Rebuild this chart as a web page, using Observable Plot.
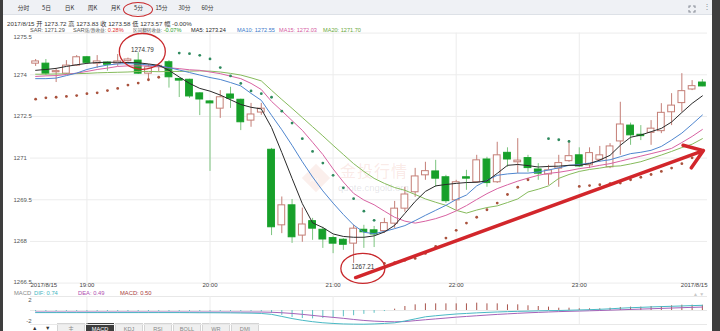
<!DOCTYPE html>
<html><head><meta charset="utf-8">
<script src="https://cdn.jsdelivr.net/npm/d3@7"></script>
<script src="https://cdn.jsdelivr.net/npm/@observablehq/plot@0.6"></script>
<style>
body{margin:0;background:#fff;}
#wrap{position:relative;width:720px;height:331px;overflow:hidden;background:#fff;font-family:"Liberation Sans",Arial,"Noto Sans CJK SC",sans-serif;color:#444;}
#bar{position:absolute;left:0;top:0;width:720px;height:15px;background:#eff1f5;border-bottom:1px solid #dde1e7;display:flex;padding-left:12px;box-sizing:border-box;}
#bar span{width:23px;text-align:center;font-size:5.8px;line-height:16px;color:#333;font-family:"Noto Sans CJK SC","Liberation Sans",sans-serif;}
.abs{position:absolute;white-space:nowrap;}
#info1{left:7px;top:18.5px;font-size:6.2px;color:#333;}
.i2{top:26.5px;font-size:5.6px;color:#555;}
.cj{font-family:"Noto Sans CJK SC",sans-serif;font-size:4.6px;}
.mi{top:290px;font-size:5.8px;}
.tab{position:absolute;top:323px;width:28px;height:12px;border:1px solid #d4d4d4;background:#efefef;color:#888;font-size:5.6px;text-align:center;line-height:10px;box-sizing:border-box;}
.tab.on{background:#3d3d3d;color:#fff;border-color:#3d3d3d;}
.strip{position:absolute;top:0;height:331px;background:#3e3e3e;z-index:5;}
</style></head>
<body><div id="wrap">
<div id="bar"></div>
<div class="abs" style="left:123px;top:1.5px;width:30px;height:15px;border:1.3px solid #c8282c;border-radius:50%;box-sizing:border-box;"></div>
<svg class="abs" style="left:688px;top:5px" width="8" height="8" viewBox="0 0 8 8"><path d="M1 3V1h2M5 1h2v2M7 5v2H5M3 7H1V5" fill="none" stroke="#8a8f99" stroke-width="1.1"/></svg>
<div class="abs" style="left:703px;top:2px;font-size:8px;color:#8a8f99;">⋮</div>
<div id="info1" class="abs">2017/8/15 开 1273.72 高 1273.83 收 1273.58 低 1273.57 幅 -0.00%</div>
<div class="abs i2" style="left:30px">SAR: 1271.29</div>
<div class="abs i2" style="left:73px">SAR<span class="cj">涨/跌收益</span>: <span style="color:#e0302c">0.28%</span></div>
<div class="abs i2" style="left:133px"><span class="cj">区间翻转收益</span>: <span style="color:#1f9a2a">-0.07%</span></div>
<div class="abs i2" style="left:191px;color:#222">MA5: 1273.24</div>
<div class="abs i2" style="left:237px;color:#3a78c9">MA10: 1272.55</div>
<div class="abs i2" style="left:279px;color:#d45aa0">MA15: 1272.03</div>
<div class="abs i2" style="left:323px;color:#6aa83a">MA20: 1271.70</div>
<div class="abs" style="left:306px;top:168px;width:20px;height:20px;transform:rotate(45deg);background:rgba(226,130,112,0.13);"></div>
<div class="abs" style="left:310px;top:176px;font-size:7px;color:rgba(255,255,255,0.7);">Au</div>
<div class="abs" style="left:340px;top:158px;font-size:16px;color:rgba(226,130,112,0.18);font-family:'Noto Sans CJK SC',sans-serif;letter-spacing:1px;">金投行情</div>
<div class="abs" style="left:338px;top:182px;font-size:9.5px;color:rgba(160,160,175,0.28);">quote.cngold.org</div>
<div class="abs mi" style="left:14px;color:#888">MACD</div>
<div class="abs mi" style="left:34px;color:#3fb6c2">DIF: 0.74</div>
<div class="abs mi" style="left:78px;color:#b04fb0">DEA: 0.49</div>
<div class="abs mi" style="left:120px;color:#a8403c">MACD: 0.50</div>
<div class="abs" style="left:693px;top:291px;font-size:5px;color:#c8c8c8">▲ ▼</div>
<div class="abs" style="left:32px;top:325px;font-size:5.5px;color:#333">▲</div>
<div class="abs" style="left:45px;top:325px;font-size:5.5px;color:#333">▼</div>
<div id="tabs"></div>
<div class="strip" style="left:0;width:3px"></div>
<div class="strip" style="left:712px;width:8px"></div>
</div>
<script>
// ---------- data ----------
const toolbarLabels = ["分时","5日","日K","周K","月K","5分","15分","30分","60分"];
const tabLabels = ["主","MACD","KDJ","RSI","BOLL","WR","DMI"];
const dateLabel = "2017/8/15";
const timeTickIdx = [5,17,29,41,53];
const timeTickLabels = ["19:00","20:00","21:00","22:00","23:00"];
const priceTicks = [1266.5,1268,1269.5,1271,1272.5,1274,1275.5];
const macdTicks = [2,-2];

const opens = [1274.40,1274.40,1274.09,1274.04,1274.33,1274.63,1274.40,1274.44,1274.40,1274.49,
1274.51,1274.04,1274.27,1274.45,1273.85,1273.82,1273.33,1273.04,1272.78,1273.29,
1273.10,1272.35,1272.64,1271.30,1268.58,1269.30,1268.21,1268.73,1268.42,1268.12,
1268.06,1267.92,1268.42,1268.40,1268.37,1268.64,1269.18,1269.77,1270.38,1270.52,
1270.31,1269.48,1270.31,1270.13,1270.95,1270.13,1271.19,1270.85,1271.00,1270.59,
1270.41,1270.62,1270.89,1271.10,1270.74,1270.94,1270.67,1271.60,1272.17,1271.84,
1271.91,1271.97,1272.65,1272.98,1273.47,1273.72];
const highs = [1274.55,1274.55,1274.23,1274.51,1274.69,1274.66,1274.69,1274.46,1274.73,1274.60,
1274.79,1274.37,1274.40,1274.51,1273.87,1273.84,1273.35,1273.07,1273.43,1273.55,
1273.12,1272.97,1272.97,1271.35,1269.60,1269.51,1269.20,1268.83,1268.51,1268.19,
1268.10,1268.58,1268.58,1268.54,1268.83,1269.44,1269.95,1270.63,1270.85,1270.92,
1270.38,1270.20,1270.56,1271.10,1271.03,1271.57,1271.37,1271.70,1271.10,1270.80,
1270.74,1271.10,1271.63,1271.37,1271.37,1271.42,1271.52,1273.01,1272.26,1272.17,
1272.35,1272.96,1273.32,1274.04,1273.79,1273.83];
const lows = [1274.30,1273.97,1273.72,1274.01,1274.30,1274.40,1274.23,1274.13,1274.30,1274.46,
1274.01,1273.79,1274.10,1273.52,1273.18,1273.15,1272.53,1270.52,1272.43,1272.79,
1271.99,1272.11,1272.54,1268.21,1268.28,1267.93,1267.97,1268.04,1267.75,1267.56,
1267.68,1267.21,1267.75,1267.78,1268.29,1268.47,1269.05,1269.59,1270.20,1269.95,
1269.37,1269.12,1269.84,1270.09,1269.95,1270.09,1270.67,1270.44,1270.49,1270.20,
1270.02,1269.95,1270.85,1270.67,1270.62,1270.85,1270.62,1271.10,1271.46,1271.63,
1271.46,1271.88,1272.17,1272.65,1273.43,1273.57];
const closes = [1274.48,1274.04,1274.13,1274.33,1274.63,1274.43,1274.48,1274.36,1274.48,1274.55,
1274.04,1274.27,1274.32,1273.91,1273.79,1273.22,1273.11,1272.97,1273.19,1273.14,
1272.29,1272.57,1272.78,1268.51,1269.30,1268.15,1268.61,1268.46,1268.07,1267.92,
1267.88,1268.46,1268.33,1268.25,1268.66,1269.18,1269.69,1270.34,1270.53,1270.26,
1269.45,1270.13,1270.26,1270.92,1270.10,1271.10,1270.95,1270.91,1270.64,1270.44,
1270.56,1270.82,1271.07,1270.70,1271.18,1271.10,1271.42,1272.21,1271.82,1271.79,
1272.06,1272.63,1272.89,1273.41,1273.59,1273.58];

const ma5 = [1274.16,1274.19,1274.23,1274.30,1274.36,1274.41,1274.44,1274.45,1274.45,1274.44,
1274.43,1274.39,1274.34,1274.16,1273.92,1273.69,1273.51,1273.41,1273.27,1273.10,
1272.93,1272.83,1272.77,1272.10,1271.20,1270.27,1269.36,1268.67,1268.50,1268.27,
1268.18,1268.15,1268.15,1268.20,1268.34,1268.58,1269.01,1269.44,1269.80,1270.00,
1270.05,1270.09,1270.12,1270.13,1270.18,1270.45,1270.74,1270.77,1270.73,1270.68,
1270.70,1270.71,1270.74,1270.74,1270.80,1270.93,1271.10,1271.46,1271.75,1271.83,
1271.95,1272.07,1272.30,1272.64,1272.97,1273.24];
const ma10 = [1273.86,1273.86,1273.88,1273.97,1274.06,1274.19,1274.28,1274.35,1274.39,1274.40,
1274.39,1274.35,1274.32,1274.26,1274.17,1274.08,1273.99,1273.90,1273.83,1273.72,
1273.60,1273.33,1273.08,1272.54,1272.02,1271.46,1270.87,1270.32,1269.82,1269.38,
1268.97,1268.59,1268.33,1268.28,1268.36,1268.46,1268.57,1268.75,1268.94,1269.12,
1269.30,1269.51,1269.67,1270.00,1270.20,1270.38,1270.43,1270.46,1270.46,1270.50,
1270.57,1270.65,1270.74,1270.77,1270.82,1270.89,1270.94,1271.05,1271.16,1271.21,
1271.28,1271.42,1271.65,1271.90,1272.22,1272.55];
const ma15 = [1273.94,1273.96,1273.97,1274.01,1274.06,1274.12,1274.19,1274.24,1274.30,1274.32,
1274.32,1274.32,1274.30,1274.25,1274.22,1274.18,1274.16,1274.10,1274.04,1273.95,
1273.86,1273.69,1273.47,1273.04,1272.70,1272.35,1272.00,1271.57,1271.13,1270.61,
1270.14,1269.73,1269.49,1269.32,1269.09,1268.87,1268.73,1268.66,1268.73,1268.82,
1268.94,1269.10,1269.29,1269.51,1269.72,1269.90,1270.04,1270.17,1270.28,1270.38,
1270.45,1270.49,1270.55,1270.62,1270.67,1270.74,1270.80,1270.89,1270.98,1271.07,
1271.16,1271.25,1271.35,1271.56,1271.78,1272.03];
const ma20 = [1274.02,1274.02,1274.03,1274.03,1274.04,1274.05,1274.07,1274.08,1274.09,1274.10,
1274.12,1274.12,1274.11,1274.12,1274.12,1274.13,1274.14,1274.13,1274.10,1274.05,
1273.99,1273.89,1273.78,1273.44,1273.11,1272.79,1272.46,1272.13,1271.80,1271.46,
1271.13,1270.80,1270.52,1270.27,1270.09,1269.94,1269.84,1269.69,1269.53,1269.41,
1269.30,1269.12,1269.02,1269.13,1269.22,1269.28,1269.40,1269.53,1269.78,1269.88,
1270.00,1270.27,1270.41,1270.52,1270.59,1270.64,1270.70,1270.72,1270.79,1270.87,
1270.99,1271.11,1271.24,1271.38,1271.50,1271.70];
const sar = [1273.12,1273.17,1273.19,1273.22,1273.25,1273.32,1273.35,1273.43,1273.51,1273.63,
1273.70,1273.82,1273.91,null,1274.78,1274.76,1274.70,1274.57,1274.26,1273.96,
1273.69,1273.42,1273.32,1273.19,1272.69,1272.26,1271.70,1271.24,1270.82,1270.38,
1269.93,1269.54,1269.09,1268.76,1267.21,1267.24,1267.32,1267.39,1267.57,1267.82,
1268.12,1268.40,1268.66,1268.87,1269.14,1269.38,1269.69,1269.95,1270.22,null,
1271.70,1271.66,1271.60,1269.98,1270.01,1270.04,1270.08,1270.10,1270.22,1270.31,
1270.41,1270.52,1270.64,1270.80,1271.01,null];

const dif = [-0.30,-0.30,-0.30,-0.30,-0.30,-0.30,-0.30,-0.30,-0.30,-0.30,
-0.30,-0.30,-0.30,-0.30,-0.30,-0.31,-0.32,-0.32,-0.33,-0.34,
-0.36,-0.38,-0.42,-0.55,-0.85,-1.15,-1.40,-1.60,-1.75,-1.85,
-1.92,-1.95,-1.96,-1.92,-1.85,-1.76,-1.50,-1.20,-0.90,-0.75,
-0.62,-0.50,-0.42,-0.34,-0.27,-0.21,-0.16,-0.12,-0.09,-0.05,
-0.02,0.00,0.04,0.08,0.12,0.17,0.24,0.33,0.40,0.45,
0.51,0.56,0.60,0.65,0.70,0.74];
const dea = [-0.22,-0.22,-0.22,-0.22,-0.22,-0.22,-0.22,-0.22,-0.22,-0.22,
-0.22,-0.22,-0.22,-0.22,-0.22,-0.22,-0.22,-0.22,-0.22,-0.22,
-0.22,-0.22,-0.22,-0.25,-0.32,-0.42,-0.55,-0.70,-0.85,-0.98,
-1.12,-1.28,-1.42,-1.52,-1.58,-1.62,-1.58,-1.45,-1.32,-1.20,
-1.08,-0.95,-0.85,-0.75,-0.65,-0.56,-0.48,-0.40,-0.33,-0.27,
-0.21,-0.16,-0.12,-0.08,-0.04,0.00,0.05,0.10,0.15,0.20,
0.25,0.30,0.35,0.40,0.45,0.49];
const macdHist = [-0.15,-0.15,-0.15,-0.15,-0.15,-0.15,-0.15,-0.15,-0.15,-0.15,
-0.15,-0.15,-0.15,-0.15,-0.15,-0.15,-0.15,-0.15,-0.15,-0.15,
-0.15,-0.15,-0.20,-0.40,-0.70,-1.00,-1.15,-1.20,-1.15,-1.05,
-0.90,-0.75,-0.55,-0.40,-0.15,0.19,0.57,0.81,0.95,0.95,
0.95,0.95,0.95,1.05,0.95,0.95,0.81,0.81,0.67,0.57,
0.48,0.33,0.33,0.24,0.24,0.24,0.33,0.43,0.48,0.48,
0.57,0.57,0.67,0.76,0.76,0.75];

// annotations (candle index, price)
const noteIdx = [10.4, 31.9];
const notePrice = [1274.79, 1267.21];
const noteLabels = ["1274.79", "1267.21"];
const arrowFrom = [31.2, 1266.70];
const arrowTo = [65.1, 1271.27];

// ---------- html chrome ----------
const bar = document.getElementById("bar");
toolbarLabels.forEach(t => { const s = document.createElement("span"); s.textContent = t; bar.appendChild(s); });
const tabs = document.getElementById("tabs");
tabLabels.forEach((t, i) => {
  const d = document.createElement("div");
  d.className = "tab" + (t === "MACD" ? " on" : "");
  d.style.left = (57 + i * 29) + "px";
  d.textContent = t;
  tabs.appendChild(d);
});

// ---------- chart ----------
const UP = "#c47e76", DOWN = "#17a02a", DOWNWICK = "#7cc47f";
const candles = opens.map((o, i) => ({i, o, h: highs[i], l: lows[i], c: closes[i], up: closes[i] > o}));
const sarPts = sar.map((v, i) => ({i, v})).filter(d => d.v != null)
  .map(d => ({...d, col: d.v < closes[d.i] ? "#a9523d" : "#2f8a5e"}));

function ellipse(aspect) {
  return {draw(ctx, size) {
    const rx = Math.sqrt(size / Math.PI), ry = rx * aspect, k = 0.5523;
    ctx.moveTo(rx, 0);
    ctx.bezierCurveTo(rx, k * ry, k * rx, ry, 0, ry);
    ctx.bezierCurveTo(-k * rx, ry, -rx, k * ry, -rx, 0);
    ctx.bezierCurveTo(-rx, -k * ry, -k * rx, -ry, 0, -ry);
    ctx.bezierCurveTo(k * rx, -ry, rx, -k * ry, rx, 0);
    ctx.closePath();
  }};
}
const font = "'Liberation Sans', Arial, sans-serif";
const xDom = [-0.5, 65.5];
const midTicks = priceTicks.slice(1, -1);

const main = Plot.plot({
  width: 720, height: 292,
  marginLeft: 30, marginRight: 13, marginTop: 32.6, marginBottom: 9.4,
  x: {domain: xDom, axis: null},
  y: {domain: [1266.5, 1275.5], axis: null},
  color: {type: "identity"},
  style: {position: "absolute", left: "0px", top: "0px", background: "transparent", fontFamily: font, overflow: "visible"},
  marks: [
    Plot.ruleY(priceTicks, {stroke: "#ececec", strokeWidth: 1}),
    Plot.ruleX(timeTickIdx, {stroke: "#ececec", strokeWidth: 1}),
    Plot.text(midTicks, {y: d => d, text: d => String(d), frameAnchor: "left", textAnchor: "start", dx: -17, fill: "#555", fontSize: 6}),
    Plot.text([priceTicks[priceTicks.length - 1]], {y: d => d, text: d => String(d), frameAnchor: "left", textAnchor: "start", dx: -17, dy: 3.5, fill: "#555", fontSize: 6}),
    Plot.text([priceTicks[0]], {y: d => d, text: d => String(d), frameAnchor: "left", textAnchor: "start", dx: -17, dy: -1.5, fill: "#555", fontSize: 6}),
    Plot.text(timeTickIdx, {x: d => d, text: (d, i) => timeTickLabels[i], frameAnchor: "bottom", dy: 4, fill: "#444", fontSize: 6}),
    Plot.text([dateLabel], {x: () => xDom[0], text: d => d, frameAnchor: "bottom", textAnchor: "start", dy: 4, fill: "#444", fontSize: 6}),
    Plot.text([dateLabel], {x: () => xDom[1], text: d => d, frameAnchor: "bottom", textAnchor: "end", dy: 4, fill: "#444", fontSize: 6}),
    // candles
    Plot.ruleX(candles, {x: "i", y1: "l", y2: "h", stroke: d => d.up ? UP : DOWNWICK, strokeWidth: 1}),
    Plot.rect(candles, {x1: d => d.i - 0.33, x2: d => d.i + 0.33, y1: "o", y2: "c",
      fill: d => d.up ? "white" : DOWN, stroke: d => d.up ? UP : DOWN, strokeWidth: 1}),
    // moving averages
    Plot.lineY(ma20, {stroke: "#86bb5c", strokeWidth: 1}),
    Plot.lineY(ma15, {stroke: "#d862a2", strokeWidth: 1}),
    Plot.lineY(ma10, {stroke: "#4f86cf", strokeWidth: 1}),
    Plot.lineY(ma5, {stroke: "#2a2a2a", strokeWidth: 1}),
    // SAR
    Plot.dot(sarPts, {x: "i", y: "v", r: 1.4, fill: "col", stroke: null}),
    // annotations
    Plot.arrow([0], {x1: () => arrowFrom[0], y1: () => arrowFrom[1], x2: () => arrowTo[0], y2: () => arrowTo[1],
      stroke: "#d2262b", strokeWidth: 3.5, headLength: 9, headAngle: 70}),
    Plot.text([0], {x: () => noteIdx[0], y: () => notePrice[0], text: () => noteLabels[0], dy: -3, fill: "#333", fontSize: 6.3}),
    Plot.text([1], {x: () => noteIdx[1], y: () => notePrice[1], text: () => noteLabels[1], dy: 4, fill: "#333", fontSize: 6.3}),
    Plot.dot([0], {x: () => noteIdx[0], y: () => notePrice[0], dy: -1.4, r: 23, symbol: ellipse(0.78), fill: "none", stroke: "#c8282c", strokeWidth: 1.3}),
    Plot.dot([1], {x: () => noteIdx[1], y: () => notePrice[1], dy: 5, r: 22, symbol: ellipse(0.68), fill: "none", stroke: "#c8282c", strokeWidth: 1.3})
  ]
});

const macdPlot = Plot.plot({
  width: 720, height: 44,
  marginLeft: 30, marginRight: 13, marginTop: 14, marginBottom: 2,
  x: {domain: xDom, axis: null},
  y: {domain: [-2, 2], axis: null},
  color: {type: "identity"},
  style: {position: "absolute", left: "0px", top: "282px", background: "transparent", fontFamily: font, overflow: "visible"},
  marks: [
    Plot.ruleY([2, 0, -2], {stroke: "#e8e8e8"}),
    Plot.ruleX(timeTickIdx, {stroke: "#ececec"}),
    Plot.text([macdTicks[0]], {y: d => d, text: d => String(d), frameAnchor: "left", textAnchor: "end", dx: 1, dy: 4, fill: "#555", fontSize: 6}),
    Plot.text([macdTicks[1]], {y: d => d, text: d => String(d), frameAnchor: "left", textAnchor: "end", dx: 1, dy: -3, fill: "#555", fontSize: 6}),
    Plot.ruleX(macdHist, {x: (d, i) => i, y1: () => 0, y2: d => d, stroke: d => d >= 0 ? "#a9544c" : "#5ec2c4", strokeWidth: 1}),
    Plot.lineY(dea, {stroke: "#a462b8", strokeWidth: 1}),
    Plot.lineY(dif, {stroke: "#48b9c4", strokeWidth: 1})
  ]
});

const wrap = document.getElementById("wrap");
const firstStrip = wrap.querySelector(".strip");
wrap.insertBefore(main, firstStrip);
wrap.insertBefore(macdPlot, firstStrip);
</script>
</body></html>
